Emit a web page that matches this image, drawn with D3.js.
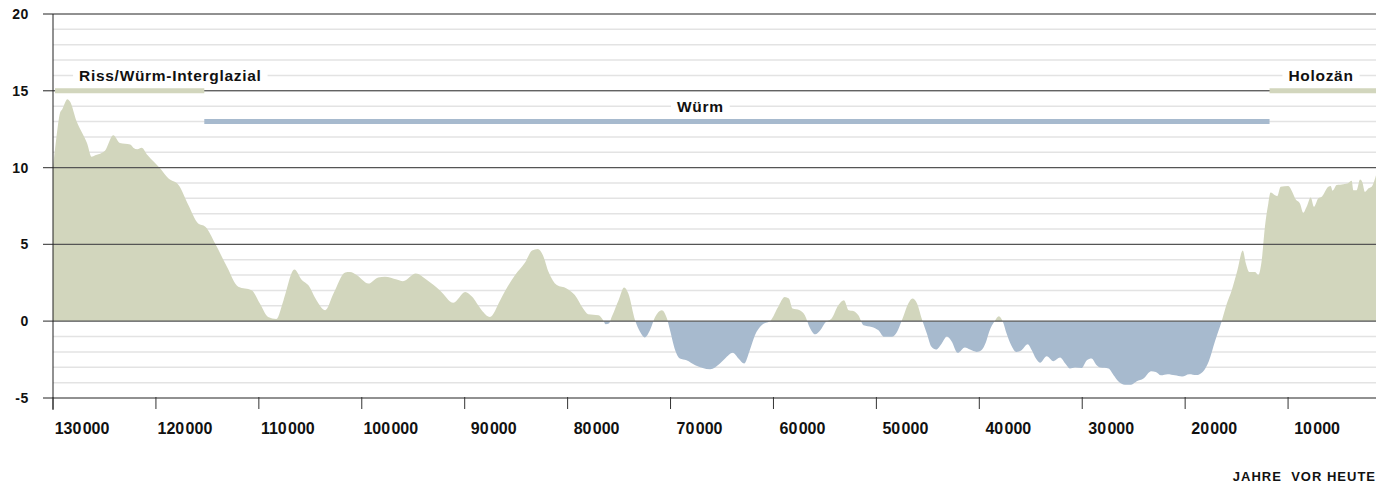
<!DOCTYPE html>
<html>
<head>
<meta charset="utf-8">
<script src="https://cdn.jsdelivr.net/npm/d3@7/dist/d3.min.js"></script>
<style>
  html, body { margin: 0; padding: 0; background: #fff; }
  svg { display: block; }
  text { font-family: "Liberation Sans", Arial, Helvetica, sans-serif; font-weight: bold; fill: #111; }
</style>
</head>
<body>
<svg id="chart" width="1391" height="483"></svg>
<script>
// ---- data ----
const years = [130000,129700,129300,129100,128600,128350,127700,127200,126700,126250,125900,124950,124150,123500,122500,122200,121800,121400,120800,119600,118800,117800,116850,115900,115200,114250,113100,112000,110700,109900,109100,108300,107600,106550,105800,105200,104400,103550,102750,101600,101150,100500,99350,98400,97750,96600,96000,94750,93700,92400,91100,89950,89300,88350,87550,86550,86050,85100,84150,83450,82900,82400,81850,81050,80100,79300,78500,78000,77000,76550,76300,76000,75700,75050,74500,74100,73450,72950,72500,72000,71500,70850,70350,70050,69550,69100,68450,67600,66150,65200,64700,63950,63400,62850,62300,61800,61150,60250,59550,58900,58500,58150,57450,56950,56500,55950,55450,55000,54350,53700,53150,52700,52250,51750,51250,50450,49800,49250,48500,48000,47400,46900,46500,46050,45600,45100,44650,44200,43650,43150,42700,42100,41400,40900,40250,39800,39350,39050,38500,38100,37700,37350,36900,36400,35900,35300,34900,34500,34100,33450,32800,32150,31650,31200,30700,30050,29550,29100,28600,28250,27450,26950,26500,25850,25250,24700,24050,23300,22850,22350,21700,21000,20300,19600,18900,18300,17700,17100,16450,15950,15480,14930,14400,14100,13770,13200,12900,12560,12250,11920,11700,11270,11050,10720,9980,9650,9230,8850,8520,8200,7800,7480,7060,6730,6510,6090,5860,5670,5280,4630,4140,3820,3660,3340,3010,2790,2530,2210,1880,1460];
const temps = [10.0,11.8,13.6,13.8,14.45,14.3,13.0,12.3,11.6,10.7,10.8,11.1,12.1,11.6,11.5,11.3,11.2,11.3,10.8,9.95,9.3,8.86,7.56,6.36,6.15,5.06,3.54,2.24,2.02,1.15,0.28,0.15,1.37,3.37,2.67,2.35,1.37,0.72,1.8,3.17,3.2,3.0,2.45,2.85,2.89,2.71,2.6,3.1,2.7,2.0,1.2,1.9,1.6,0.72,0.28,1.37,2.0,3.0,3.8,4.6,4.7,4.3,3.2,2.35,2.13,1.7,0.83,0.46,0.39,0.07,-0.2,-0.15,0.3,1.37,2.2,1.8,0.07,-0.7,-1.06,-0.59,0.28,0.72,0.17,-0.59,-1.89,-2.43,-2.54,-2.87,-3.13,-2.75,-2.43,-2.06,-2.43,-2.76,-1.89,-0.91,-0.26,0.07,0.93,1.58,1.48,0.83,0.72,0.39,-0.37,-0.85,-0.59,-0.11,0.17,1.04,1.37,0.72,0.67,0.39,-0.26,-0.37,-0.59,-1.02,-1.02,-0.7,0.28,1.15,1.48,1.15,0.17,-0.8,-1.67,-1.85,-1.45,-1.0,-1.3,-2.06,-1.71,-1.85,-2.0,-1.89,-1.35,-0.7,0.02,0.33,-0.05,-0.8,-1.56,-2.0,-1.89,-1.5,-1.89,-2.43,-2.7,-2.28,-2.6,-2.37,-2.76,-3.08,-3.02,-3.04,-2.54,-2.43,-2.87,-3.02,-3.08,-3.52,-3.91,-4.13,-4.13,-3.91,-3.73,-3.26,-3.3,-3.52,-3.45,-3.52,-3.6,-3.45,-3.5,-3.3,-2.6,-1.3,0,1.15,2.0,3.3,4.6,3.75,3.2,3.2,3.0,3.97,6.15,7.67,8.38,8.2,8.14,8.75,8.8,8.5,7.9,7.67,7.06,7.45,8.06,7.45,8.0,8.1,8.32,8.75,8.8,8.5,8.86,8.92,9.0,9.14,8.53,8.53,9.23,9.07,8.42,8.64,8.75,9.5];

const yTicks = [-5, 0, 5, 10, 15, 20];
const xTicks = [130000,120000,110000,100000,90000,80000,70000,60000,50000,40000,30000,20000,10000];

const periodNames = ["Riss/Würm-Interglazial", "Würm", "Holozän"];
const periodStart = [130000, 115300, 11800];
const periodEnd   = [115300, 11800, 1460];
const periodLevel = [15, 13, 15];
const periodLabelLevel = [16, 14, 16];
const periodLabelYear = [118600, 67100, 6800];
const periodColor = ["#d2d6bd", "#a7bace", "#d2d6bd"];

const axisTitle = "JAHRE\u00a0 VOR HEUTE";

// ---- layout ----
const svg = d3.select("#chart");
const left = 53, right = 1376;
const x = d3.scaleLinear().domain([130000, 0]).range([53, 1391]);
const y = d3.scaleLinear().domain([-5, 20]).range([398, 14]);

const warm = "#d2d6bd", cold = "#a7bace";

// minor gridlines
const minor = d3.range(-5, 21).filter(v => v % 5 !== 0);
svg.append("g").selectAll("line").data(minor).join("line")
  .attr("x1", left).attr("x2", right)
  .attr("y1", d => y(d)).attr("y2", d => y(d))
  .attr("stroke", "#e3e3e3").attr("stroke-width", 1.5);

// area
const data = years.map((yr, i) => ({yr, t: temps[i]}));
const area = d3.area().curve(d3.curveMonotoneX)
  .x(d => x(d.yr)).y0(y(0)).y1(d => y(d.t));

const defs = svg.append("defs");
defs.append("clipPath").attr("id", "above").append("rect")
  .attr("x", 0).attr("y", 0).attr("width", 1391).attr("height", y(0));
defs.append("clipPath").attr("id", "below").append("rect")
  .attr("x", 0).attr("y", y(0)).attr("width", 1391).attr("height", 483 - y(0));

svg.append("path").datum(data).attr("d", area).attr("fill", warm).attr("clip-path", "url(#above)");
svg.append("path").datum(data).attr("d", area).attr("fill", cold).attr("clip-path", "url(#below)");

// major lines
svg.append("g").selectAll("line").data(yTicks).join("line")
  .attr("x1", 43).attr("x2", right)
  .attr("y1", d => y(d)).attr("y2", d => y(d))
  .attr("stroke", d => (d === 20 || d === 15 || d === -5) ? "#222" : "#555")
  .attr("stroke-width", d => (d === 20 || d === 15 || d === -5) ? 1 : 1.3);

// y axis vertical
svg.append("line").attr("x1", left).attr("x2", left).attr("y1", y(20)).attr("y2", 410)
  .attr("stroke", "#222").attr("stroke-width", 1);

// y labels
svg.append("g").selectAll("text").data(yTicks).join("text")
  .attr("x", 29).attr("y", d => y(d) + 5)
  .attr("text-anchor", "end").attr("font-size", 14)
  .attr("letter-spacing", 0.6)
  .text(d => d);

// x ticks
svg.append("g").selectAll("line").data(xTicks).join("line")
  .attr("x1", d => x(d)).attr("x2", d => x(d))
  .attr("y1", 397).attr("y2", 409)
  .attr("stroke", "#333").attr("stroke-width", 1);

const fmt = d => { const s = String(d); return s.slice(0, s.length - 3) + "\u200a" + s.slice(-3); };
svg.append("g").selectAll("text").data(xTicks).join("text")
  .attr("x", d => x(d) + 29).attr("y", 433.5)
  .attr("text-anchor", "middle").attr("font-size", 16)
  .text(fmt);

// axis title
svg.append("text").attr("x", right).attr("y", 481)
  .attr("text-anchor", "end").attr("font-size", 13).attr("letter-spacing", 1)
  .text(axisTitle);

// period bars
periodNames.forEach((name, i) => {
  const x1 = i === 0 ? 55 : x(periodStart[i]);
  const x2 = i === 2 ? right : x(periodEnd[i]);
  svg.append("line")
    .attr("x1", x1).attr("x2", x2)
    .attr("y1", y(periodLevel[i])).attr("y2", y(periodLevel[i]))
    .attr("stroke", periodColor[i]).attr("stroke-width", 5);
});

// period labels with white gap in gridline
periodNames.forEach((name, i) => {
  const ly = y(periodLabelLevel[i]);
  const g = svg.append("g");
  const bg = g.append("rect").attr("fill", "#fff");
  const t = g.append("text")
    .attr("x", x(periodLabelYear[i])).attr("y", ly + 5.5)
    .attr("text-anchor", "middle").attr("font-size", 15.5)
    .attr("letter-spacing", 0.7)
    .text(name);
  const bb = t.node().getBBox();
  bg.attr("x", bb.x - 6).attr("y", ly - 3).attr("width", bb.width + 12).attr("height", 6);
});
</script>
</body>
</html>
